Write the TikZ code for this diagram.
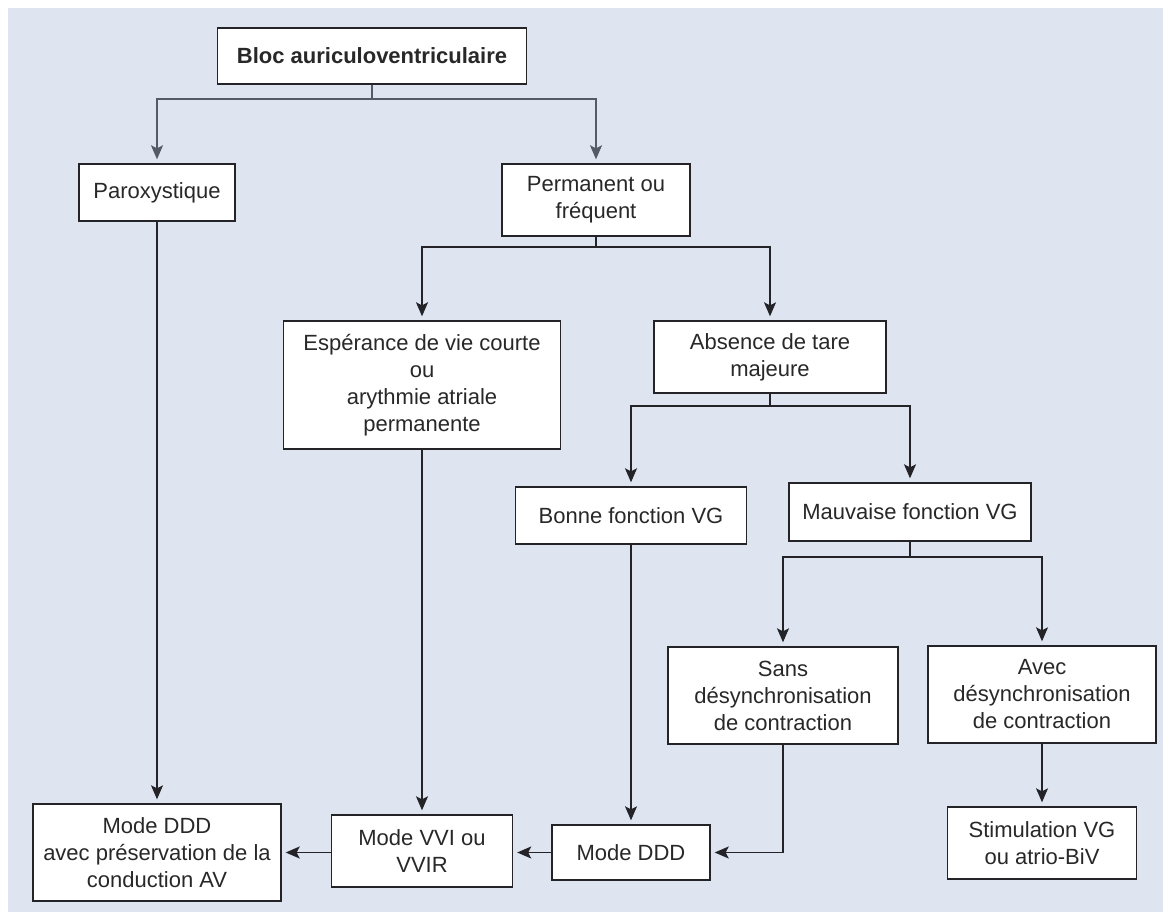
\documentclass[tikz,border=0pt]{standalone}
\usepackage{fontspec}
\setmainfont{Liberation Sans}
\usetikzlibrary{arrows.meta}
\definecolor{bgblue}{RGB}{222,228,240}
\definecolor{txt}{RGB}{40,40,40}
\definecolor{lnc}{RGB}{35,35,40}
\definecolor{lntop}{RGB}{85,90,100}
\begin{document}
\begin{tikzpicture}[x=1pt,y=-1pt,
  box/.style={draw=lnc, fill=white, line width=1.4pt, inner sep=0pt, align=center,
    text=txt, font=\fontsize{22}{27}\selectfont},
  conn/.style={draw=lnc, line width=1.3pt},
  arr/.style={conn, -{Stealth[length=14pt,width=12pt,inset=3pt]}, shorten >=4pt}]
\useasboundingbox (0,0) rectangle (1170,917);
\fill[bgblue] (8,8) rectangle (1163,912);

\node[box, minimum width=309pt, minimum height=56pt] (bloc) at (372,56) {\bfseries Bloc auriculoventriculaire};
\node[box, minimum width=156pt, minimum height=57pt] (parox) at (157,192.5) {Paroxystique};
\node[box, minimum width=188pt, minimum height=72pt] (perm) at (596,200) {Permanent ou\\fréquent};
\node[box, minimum width=277pt, minimum height=128pt] (esp) at (422,385) {Espérance de vie courte\\ou\\arythmie atriale\\permanente};
\node[box, minimum width=232pt, minimum height=72pt] (abs) at (770,357) {Absence de tare\\majeure};
\node[box, minimum width=231pt, minimum height=57pt] (bonne) at (631,515.5) {Bonne fonction VG};
\node[box, minimum width=242pt, minimum height=58pt] (mauv) at (910,512) {Mauvaise fonction VG};
\node[box, minimum width=230pt, minimum height=97pt] (sans) at (783,695.5) {Sans\\désynchronisation\\de contraction};
\node[box, minimum width=228pt, minimum height=97pt] (avec) at (1042,694.5) {Avec\\désynchronisation\\de contraction};
\node[box, minimum width=189pt, minimum height=72pt] (stim) at (1042,843) {Stimulation VG\\ou atrio-BiV};
\node[box, minimum width=158pt, minimum height=55pt] (ddd) at (631,852.5) {Mode DDD};
\node[box, minimum width=181pt, minimum height=72pt] (vvi) at (422,851) {Mode VVI ou\\VVIR};
\node[box, minimum width=248pt, minimum height=97pt] (dddav) at (157,852.5) {Mode DDD\\avec préservation de la\\conduction AV};

\coordinate (j1) at (372,99);
\coordinate (j2) at (596,247);
\coordinate (j3) at (770,406);
\coordinate (j4) at (910,557);

\draw[conn, draw=lntop] (bloc.south) -- (j1);
\draw[arr, draw=lntop] (j1) -| (parox.north);
\draw[arr, draw=lntop] (j1) -| (perm.north);

\draw[conn] (perm.south) -- (j2);
\draw[arr] (j2) -| (esp.north);
\draw[arr] (j2) -| (abs.north);

\draw[conn] (abs.south) -- (j3);
\draw[arr] (j3) -| (bonne.north);
\draw[arr] (j3) -| (mauv.north);

\draw[conn] (mauv.south) -- (j4);
\draw[arr] (j4) -| (sans.north);
\draw[arr] (j4) -| (avec.north);

\draw[arr] (avec.south) -- (stim.north);
\draw[arr] (parox.south) -- (dddav.north);
\draw[arr] (esp.south) -- (vvi.north);
\draw[arr] (bonne.south) -- (ddd.north);
\draw[arr] (sans.south) |- (ddd.east);
\draw[arr] (ddd.west) -- (ddd.west -| vvi.east);
\draw[arr] (vvi.west |- ddd.west) -- (vvi.west |- ddd.west -| dddav.east);
\end{tikzpicture}
\end{document}
